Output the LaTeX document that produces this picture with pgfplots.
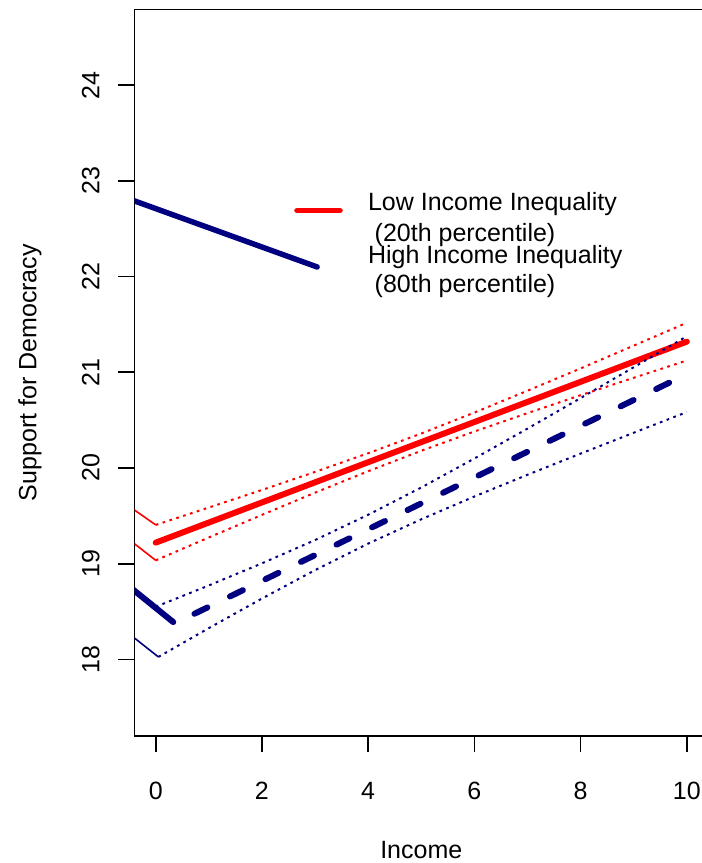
\documentclass[border=0pt]{standalone}
\usepackage{fontspec}
\setmainfont{Liberation Sans}
\usepackage{pgfplots}
\pgfplotsset{compat=1.18}
\definecolor{rred}{RGB}{255,0,0}
\definecolor{rnavy}{RGB}{0,0,128}
\newcommand{\lbl}{\fontsize{25}{30}\selectfont}
\begin{document}
\begin{tikzpicture}
\path[use as bounding box, clip] (0,0) rectangle (702pt,863pt);
\begin{axis}[
  at={(134.5pt,127pt)}, anchor=south west,
  scale only axis, width=573.5pt, height=726.5pt,
  xmin=-0.4, xmax=10.4, ymin=17.2, ymax=24.79,
  xtick={0,2,4,6,8,10}, ytick={18,19,20,21,22,23,24},
  tick align=outside, major tick length=16pt,
  xtick pos=bottom, ytick pos=left,
  axis line style={line width=1.6pt},
  every tick/.style={line width=1.6pt, black},
  /pgf/number format/assume math mode=true,
  ticklabel style={font=\lbl},
  xticklabel style={anchor=base},
  yticklabel style={rotate=90, anchor=base},
  xticklabel shift=47pt,
  yticklabel shift=19pt,
  xlabel={Income}, ylabel={Support for Democracy},
  xlabel style={font=\lbl, at={(axis description cs:0.5,-0.1680)}, anchor=base},
  ylabel style={font=\lbl, at={(axis description cs:-0.1709,0.5)}, anchor=base, rotate=0},
  clip mode=individual,
]
% legend lines (drawn in data space)
\addplot[rred, line width=5.5pt, line cap=round] coordinates {(2.66,22.69) (3.47,22.69)};
\addplot[rnavy, line width=5.5pt, line cap=round] coordinates {(-0.45,22.80) (3.04,22.10)};
% Low inequality
\addplot[rred, line width=6pt, line cap=round] coordinates {(0,19.22) (10,21.32)};
\addplot[rred, line width=2pt, dash pattern=on 2.7pt off 4.5pt] coordinates {
(0,19.405) (1,19.587) (2,19.770) (3,19.959) (4,20.154) (5,20.360) (6,20.579) (7,20.807) (8,21.040) (9,21.278) (10,21.517)};
\addplot[rred, line width=2pt, dash pattern=on 2.7pt off 4.5pt] coordinates {
(0,19.035) (1,19.274) (2,19.510) (3,19.742) (4,19.966) (5,20.180) (6,20.381) (7,20.573) (8,20.760) (9,20.942) (10,21.123)};
\addplot[rred, line width=1.6pt] coordinates {(-0.45,19.58) (0,19.405)};
\addplot[rred, line width=1.6pt] coordinates {(-0.45,19.23) (0,19.035)};
% High inequality
\addplot[rnavy, line width=6pt, line cap=round] coordinates {(-0.45,18.74) (0.33,18.39)};
\addplot[rnavy, line width=6pt, line cap=round, dash pattern=on 14.4pt off 25.1pt] coordinates {(0.729,18.477) (9.674,20.892)};
\addplot[rnavy, line width=2pt, dash pattern=on 2.7pt off 4.5pt] coordinates {
(0,18.550) (1,18.773) (2,19.004) (3,19.247) (4,19.511) (5,19.796) (6,20.099) (7,20.411) (8,20.730) (9,21.052) (10,21.376)};
\addplot[rnavy, line width=2pt, dash pattern=on 2.7pt off 4.5pt] coordinates {
(0.05,18.026) (1,18.327) (2,18.636) (3,18.933) (4,19.210) (5,19.464) (6,19.702) (7,19.929) (8,20.150) (9,20.368) (10,20.584)};
\addplot[rnavy, line width=1.6pt] coordinates {(-0.45,18.245) (0.05,18.026)};
% legend text
\node[font=\lbl, anchor=base west, inner sep=0pt] at (axis cs:3.995,22.694) {Low Income Inequality};
\node[font=\lbl, anchor=base west, inner sep=0pt] at (axis cs:4.12,22.363) {(20th percentile)};
\node[font=\lbl, anchor=base west, inner sep=0pt] at (axis cs:3.995,22.138) {High Income Inequality};
\node[font=\lbl, anchor=base west, inner sep=0pt] at (axis cs:4.12,21.838) {(80th percentile)};
\end{axis}
\end{tikzpicture}
\end{document}
